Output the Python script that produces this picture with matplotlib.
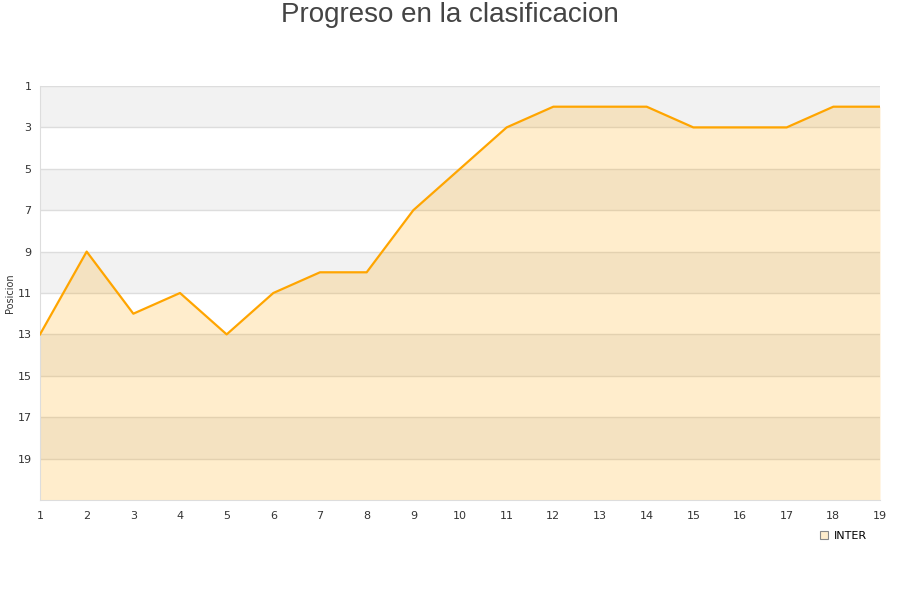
import matplotlib.pyplot as plt
from matplotlib.lines import Line2D

jornadas = list(range(1, 20))
posiciones = [13, 9, 12, 11, 13, 11, 10, 10, 7, 5, 3, 2, 2, 2, 3, 3, 3, 2, 2]
y_ticks = [1, 3, 5, 7, 9, 11, 13, 15, 17, 19]
equipo = "INTER"
titulo = "Progreso en la clasificacion"

plt.rcParams.update({"font.family": "DejaVu Sans"})

fig = plt.figure(figsize=(9, 6), dpi=100)
ax = fig.add_axes([40 / 900, 1 - 500 / 600, 840 / 900, 414 / 600])

# alternating background bands
for lo in range(1, 21, 4):
    ax.axhspan(lo, lo + 2, color="#F2F2F2", linewidth=0, zorder=0)
for y in y_ticks:
    ax.axhline(y, color="#DDDDDD", linewidth=1, zorder=1)

ax.fill_between(jornadas, posiciones, 21, color="#FFA500", alpha=0.2, linewidth=0, zorder=2)
ax.plot(jornadas, posiciones, color="#FFA500", linewidth=1.6, zorder=3)

ax.set_xlim(1, 19)
ax.set_ylim(21, 1)
ax.set_xticks(jornadas)
ax.set_yticks(y_ticks)
ax.tick_params(length=0, labelsize=8, colors="#333333")
ax.tick_params(axis="x", pad=8)
ax.tick_params(axis="y", pad=6)

for name, sp in ax.spines.items():
    sp.set_color("#DDDDDD")
ax.spines["right"].set_visible(False)
ax.spines["top"].set_visible(False)

fig.text(10 / 900, 1 - 293 / 600, "Posicion", rotation=90, fontsize=7,
         color="#333333", ha="center", va="center")

fig.text(0.5, 1 - 15 / 600, titulo, fontsize=20, color="#444444",
         ha="center", va="center", family="Liberation Sans")

handle = Line2D([0], [0], marker="s", linestyle="none", markersize=6,
                markerfacecolor="#FFEDCC", markeredgecolor="#888888", markeredgewidth=0.8)
fig.legend([handle], [equipo], loc="center", bbox_to_anchor=(843 / 900, 1 - 536 / 600),
           frameon=False, fontsize=8, handletextpad=0.4, handlelength=1.0)

fig.savefig("out.png", dpi=100, facecolor="white")
